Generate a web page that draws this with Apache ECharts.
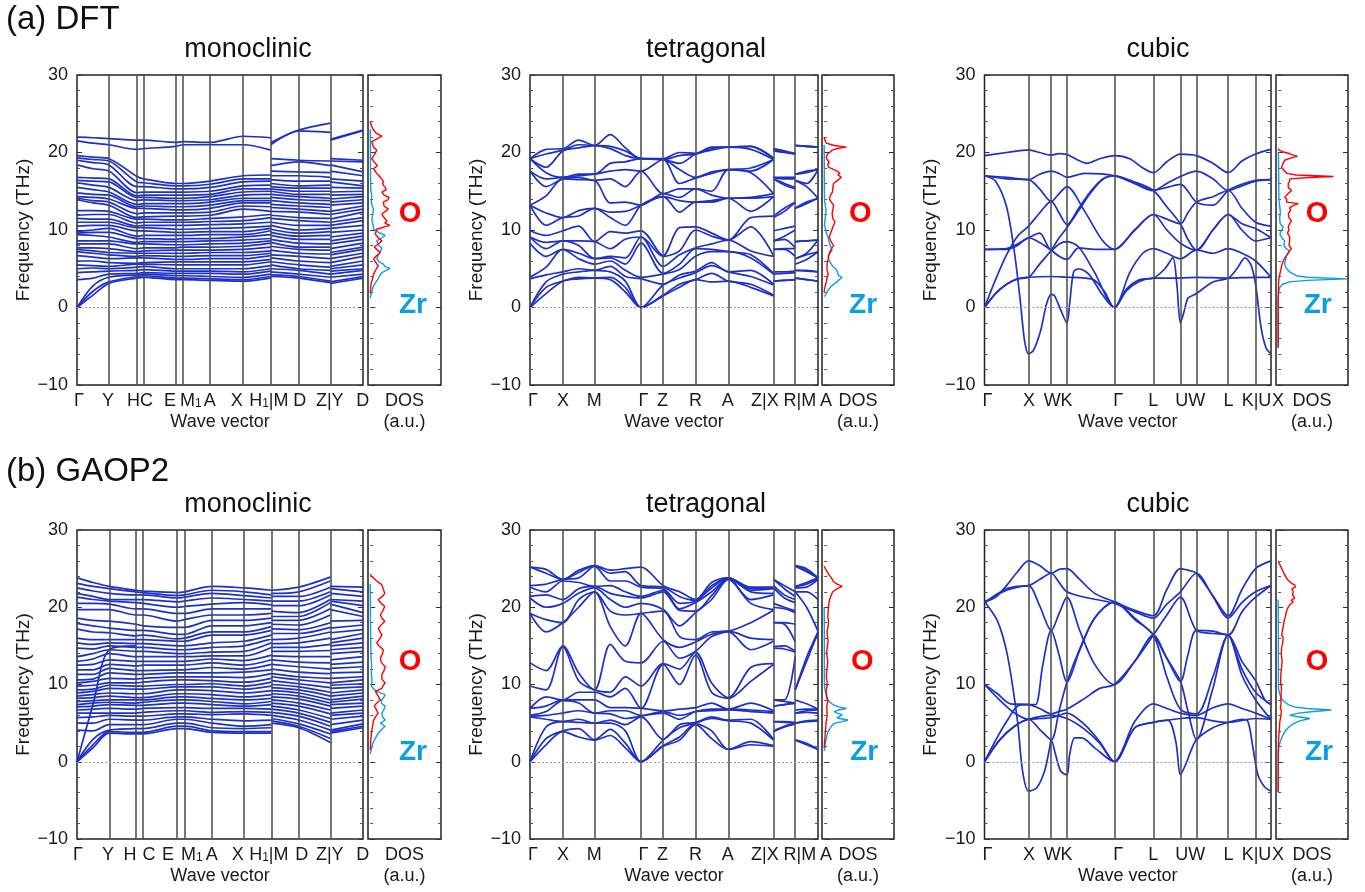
<!DOCTYPE html>
<html>
<head>
<meta charset="utf-8">
<script src="https://cdn.jsdelivr.net/npm/echarts@6/dist/echarts.min.js"></script>
<style>
  html, body { margin: 0; padding: 0; background: #fff; }
  #main { width: 1365px; height: 892px; }
</style>
</head>
<body>
<div id="main"></div>
<script>
// ---------- monoclinic, DFT : band frequencies (THz) at the path nodes, sorted ----------
var monoA_k1 = [0, 16, 32, 60, 66.6, 99.3, 106, 133.3, 166.3, 194];
var monoA_k2 = [194, 222, 253.6];
var monoA_k3 = [253.6, 286.3];
var monoA_lines = [32, 60, 66.6, 99.3, 106, 133.3, 166.3, 194, 222, 253.6];
var monoA_labels = [[2, 'Γ'], [31, 'Y'], [63, 'HC'], [93, 'E'], [114, 'M{s|1}'], [133, 'A'], [160, 'X'], [192, 'H{s|1}|M'], [223, 'D'], [253, 'Z|Y'], [286, 'D']];
var monoA_G  = [0,0,0,3.6,4.5,5.0,5.5,6.0,6.7,7.2,7.5,7.7,8.2,8.6,9.4,9.6,9.8,10.5,11.0,11.5,11.9,12.5,13.9,14.1,14.3,14.8,15.5,16.1,16.4,16.8,18.4,19.0,19.3,19.6,21.5,22.0];
var monoA_GY = [1.6,2.1,2.8,3.8,4.6,5.1,5.4,6.0,6.5,7.0,7.3,7.7,8.2,8.6,9.3,9.7,10.0,10.6,11.0,11.4,12.0,12.5,13.5,13.8,14.2,14.6,15.2,15.8,16.3,16.7,17.9,18.7,19.1,19.4,21.2,21.9];
var monoA_Y  = [3.1,3.3,3.9,4.3,4.7,5.0,5.3,5.8,6.3,6.8,7.1,7.6,8.2,8.6,9.1,9.7,10.2,10.6,11.0,11.4,12.0,12.4,13.2,13.6,14.0,14.5,14.9,15.5,16.2,16.6,17.6,18.4,18.9,19.2,21.0,21.8];
var monoA_H  = [3.8,4.0,4.2,4.4,4.8,5.2,5.6,5.7,6.4,6.6,7.0,7.2,7.6,8.2,8.4,8.9,9.2,9.9,10.3,10.5,10.9,11.4,11.6,12.1,12.8,13.0,13.3,13.8,14.2,14.4,14.8,15.6,16.2,16.9,20.4,21.6];
var monoA_C  = [3.9,4.1,4.3,4.5,4.9,5.3,5.6,5.8,6.4,6.7,7.0,7.3,7.7,8.2,8.5,8.9,9.3,9.9,10.3,10.6,11.0,11.4,11.7,12.2,12.8,13.1,13.4,13.9,14.2,14.5,14.9,15.6,16.1,16.6,20.5,21.6];
var monoA_E  = [3.6,3.8,4.1,4.4,4.7,5.0,5.5,5.9,6.2,6.6,7.0,7.4,7.7,8.1,8.5,8.8,9.3,9.7,10.1,10.6,11.0,11.3,11.8,12.2,12.6,13.0,13.4,13.8,14.1,14.5,14.9,15.3,15.7,16.0,20.8,21.3];
var monoA_M1 = [3.6,3.8,4.1,4.4,4.7,5.0,5.5,5.9,6.2,6.6,7.0,7.4,7.8,8.1,8.5,8.9,9.3,9.7,10.1,10.6,11.0,11.3,11.8,12.2,12.6,13.0,13.4,13.8,14.1,14.5,14.9,15.3,15.7,16.0,21.0,21.4];
var monoA_A  = [3.5,3.7,4.0,4.4,4.7,5.0,5.5,5.9,6.3,6.7,7.1,7.4,7.8,8.2,8.6,8.9,9.4,9.8,10.2,10.7,11.1,11.5,11.9,12.3,12.8,13.2,13.6,13.9,14.3,14.6,15.0,15.5,15.9,16.3,21.0,21.3];
var monoA_X  = [3.4,3.6,3.9,4.3,4.6,5.0,5.5,5.9,6.3,6.7,7.1,7.5,7.9,8.3,8.7,9.1,9.4,9.8,10.3,10.8,11.2,11.7,12.7,13.1,13.5,13.8,14.1,14.5,14.9,15.3,15.7,16.2,16.6,17.0,21.0,22.1];
var monoA_H1 = [3.8,4.0,4.3,4.7,5.0,5.4,5.9,6.2,6.7,7.0,7.3,7.8,8.3,8.6,8.9,9.4,9.9,10.2,10.5,11.0,11.6,12.0,12.4,13.0,13.5,13.8,14.1,14.6,15.0,15.3,15.8,16.3,16.6,17.1,20.3,21.9];
var monoA_M  = [4.0,4.2,4.6,5.0,5.5,5.9,6.4,6.8,7.4,7.9,8.4,8.8,9.3,9.7,10.1,10.6,11.0,11.5,11.9,12.4,12.9,13.3,13.8,14.2,14.6,15.0,15.3,15.6,16.0,16.5,17.0,17.6,18.3,19.2,21.0,21.3];
var monoA_D  = [3.8,4.0,4.3,4.8,5.0,5.5,6.0,6.6,7.0,7.5,7.8,8.3,8.8,9.2,9.6,10.0,10.6,11.2,11.6,12.3,12.7,13.1,13.5,13.9,14.3,14.6,15.0,15.4,15.7,16.3,17.0,17.5,18.8,19.0,22.8,22.9];
var monoA_Z  = [3.2,3.4,3.9,4.3,4.8,5.2,5.8,6.3,6.9,7.4,7.8,8.2,8.8,9.3,9.8,10.2,10.6,11.0,11.5,12.0,12.4,12.9,13.3,13.8,14.1,14.6,15.0,15.4,15.8,16.3,16.8,17.4,18.3,18.9,22.6,23.8];
var monoA_Yr = [3.1,3.3,3.9,4.3,4.7,5.0,5.3,5.8,6.3,6.8,7.1,7.6,8.2,8.6,9.1,9.7,10.2,10.6,11.0,11.4,12.0,12.4,13.2,13.6,14.0,14.5,14.9,15.5,16.2,16.6,17.6,18.4,18.9,19.2,21.6,21.7];
var monoA_Dend = [3.8,4.0,4.3,4.8,5.0,5.5,6.0,6.6,7.0,7.5,7.8,8.3,8.8,9.2,9.6,10.0,10.6,11.2,11.6,12.3,12.7,13.1,13.5,13.9,14.3,14.6,15.0,15.4,15.7,16.3,17.0,17.5,18.8,19.0,22.8,22.9];

// ---------- monoclinic, GAOP2 ----------
var monoB_k1 = [0, 16, 32.3, 59, 66.3, 100, 107.6, 135, 167.3, 194.6];
var monoB_k2 = [194.6, 222, 253.6];
var monoB_k3 = [253.6, 286.3];
var monoB_lines = [32.3, 59, 66.3, 100, 107.6, 135, 167.3, 194.6, 222, 253.6];
var monoB_labels = [[1, 'Γ'], [31, 'Y'], [53, 'H'], [72, 'C'], [91, 'E'], [115, 'M{s|1}'], [135, 'A'], [161, 'X'], [192, 'H{s|1}|M'], [225, 'D'], [253, 'Z|Y'], [286, 'D']];
var monoB_G  = [0,0,0,4.1,5.0,5.7,6.3,6.7,7.1,7.4,7.8,8.2,8.5,8.9,9.3,9.8,10.2,10.6,11.3,11.9,12.5,13.0,13.6,14.7,15.4,16.0,17.2,17.9,18.6,19.7,20.5,21.3,21.8,22.5,23.1,23.8];
var monoB_GY = [1.8,2.2,2.9,4.0,5.0,5.8,6.3,6.8,7.2,7.6,7.9,8.3,8.7,9.1,9.4,9.9,10.4,10.7,11.3,11.9,12.6,13.3,14.0,14.6,15.2,15.8,16.8,17.6,18.3,19.7,20.5,21.0,21.4,22.1,22.7,23.2];
var monoB_Y  = [3.7,3.9,4.1,4.8,5.5,6.0,6.3,6.9,7.4,7.7,8.0,8.5,8.9,9.5,9.9,10.2,10.8,11.5,12.1,12.6,13.2,14.0,14.5,15.0,15.4,15.8,16.7,17.3,18.2,19.7,20.4,20.8,21.0,21.8,22.4,22.7];
var monoB_H  = [3.6,3.8,4.3,4.8,5.4,5.9,6.3,6.8,7.3,7.6,8.0,8.3,8.8,9.4,9.8,10.2,10.7,11.3,11.8,12.4,13.0,13.6,14.3,14.8,15.3,15.8,16.3,17.0,17.8,19.0,19.8,20.6,21.0,21.6,22.0,22.2];
var monoB_C  = [3.6,3.8,4.3,4.8,5.4,5.9,6.4,6.9,7.3,7.7,8.0,8.3,8.8,9.4,9.8,10.3,10.8,11.3,11.8,12.5,13.0,13.6,14.3,14.8,15.3,15.8,16.4,17.0,17.6,19.0,19.8,20.5,21.0,21.6,21.9,22.1];
var monoB_E  = [4.3,4.6,5.0,5.5,5.8,6.2,6.6,7.0,7.6,8.0,8.4,8.8,9.3,9.7,10.0,10.6,11.0,11.5,11.9,12.5,13.0,13.6,14.0,14.5,15.0,15.6,15.9,16.5,17.4,18.2,19.2,20.0,20.7,21.2,21.5,21.9];
var monoB_M1 = [4.3,4.6,5.0,5.5,5.8,6.2,6.6,7.0,7.6,8.0,8.4,8.8,9.3,9.7,10.0,10.6,11.0,11.5,11.9,12.5,13.0,13.6,14.0,14.5,15.0,15.6,16.0,16.5,17.4,18.4,19.2,20.1,20.8,21.3,21.6,22.0];
var monoB_A  = [3.8,4.0,4.4,5.0,5.5,6.1,6.4,6.9,7.4,7.8,8.2,8.7,9.2,9.7,10.1,10.5,11.0,11.5,12.2,12.8,13.3,13.7,14.2,14.8,15.4,16.4,16.8,17.6,18.3,19.0,19.8,20.4,21.2,21.8,22.2,22.7];
var monoB_X  = [3.7,3.9,4.3,4.6,5.3,6.2,6.5,6.9,7.2,7.5,8.0,8.4,8.9,9.4,9.8,10.3,10.9,11.6,12.0,12.5,13.1,13.7,14.3,15.0,15.6,16.4,16.8,17.6,18.3,19.0,19.8,20.6,21.0,21.5,22.0,22.5];
var monoB_H1 = [3.7,3.9,4.4,4.8,5.4,6.0,6.4,6.8,7.4,7.8,8.2,8.7,9.2,9.8,10.3,10.8,11.4,11.9,12.6,13.2,13.8,14.8,15.4,15.9,16.4,17.0,17.5,18.0,18.6,19.2,19.8,20.3,20.8,21.2,21.6,22.2];
var monoB_M  = [5.0,5.3,5.6,6.0,6.4,6.8,7.2,7.6,8.0,8.4,8.8,9.2,9.6,10.0,10.5,11.0,11.4,12.0,12.6,13.2,13.7,14.3,14.8,15.3,15.8,16.6,17.2,17.8,18.3,18.8,19.5,20.2,20.8,21.4,21.8,22.2];
var monoB_D  = [4.4,4.6,4.9,5.4,5.9,6.3,6.7,7.2,7.6,8.1,8.5,8.9,9.3,9.7,10.1,10.6,11.0,11.6,12.3,12.9,13.6,14.3,14.8,15.4,16.0,16.6,17.1,17.7,18.3,18.8,19.3,20.2,20.8,21.4,22.0,22.6];
var monoB_Z  = [2.5,3.0,3.6,4.1,4.6,5.1,5.6,6.2,6.7,7.2,7.6,8.0,8.5,9.0,9.6,10.2,10.8,11.4,12.0,12.8,13.6,14.4,15.2,16.0,16.8,17.4,18.0,19.0,19.8,20.6,21.0,21.6,22.0,22.6,23.4,23.9];
var monoB_Yr = [3.7,3.9,4.1,4.8,5.5,6.0,6.3,6.9,7.4,7.7,8.0,8.5,8.9,9.5,9.9,10.2,10.8,11.5,12.1,12.6,13.2,14.0,14.5,15.0,15.4,15.8,16.7,17.3,18.2,19.7,20.4,20.8,21.0,21.8,22.4,22.7];
var monoB_Dend = [4.4,4.6,4.9,5.4,5.9,6.3,6.7,7.2,7.6,8.1,8.5,8.9,9.3,9.7,10.1,10.6,11.0,11.6,12.3,12.9,13.6,14.3,14.8,15.4,16.0,16.6,17.1,17.7,18.3,18.8,19.3,20.2,20.8,21.4,22.0,22.6];
var monoB_LA = [[0, 0], [16, 7.4], [32.3, 14.5], [59, 15.0]];

// ---------- tetragonal ----------
var tetra_k1 = [0, 16, 32.7, 48.5, 64.3, 80, 95, 110.7, 132.7, 149, 165, 181, 197.7, 220, 242.7];
var tetra_k2 = [242.7, 253.5, 264.3];
var tetra_k3 = [264.3, 275.6, 287];
var tetra_lines = [32.7, 64.3, 110.7, 132.7, 165, 197.7, 242.7, 264.3];
var tetra_labels = [[3, 'Γ'], [33, 'X'], [64, 'M'], [113, 'Γ'], [132, 'Z'], [165, 'R'], [197, 'A'], [234, 'Z|X'], [269, 'R|M']];

var tA_G  = [0,0,0,3.7,3.9,8.3,9.1,9.1,9.9,13.2,13.2,13.2,17.6,17.6,19.2,19.2,19.2,19.2];
var tA_m1 = [1.8,2.6,3.3,4.2,5.2,6.6,7.6,8.4,9.3,10.6,12.2,14.4,15.6,16.6,17.4,18.1,19.8,20.4];
var tA_X  = [3.4,3.4,4.3,4.6,7.5,7.5,8.6,8.6,9.9,11.6,11.6,16.6,16.6,16.8,16.8,20.2,20.3,20.5];
var tA_m2 = [3.7,3.9,4.6,5.0,6.3,7.0,8.0,8.6,10.5,11.8,12.5,16.5,16.8,17.0,17.2,20.6,21.0,21.6];
var tA_M  = [3.8,3.8,4.8,4.8,5.6,6.3,6.3,8.5,8.5,12.8,12.8,16.4,16.4,17.2,17.2,20.9,20.9,20.9];
var tA_m3 = [3.6,3.9,4.6,5.3,6.0,6.4,6.6,7.6,9.8,11.6,12.3,13.5,16.6,17.6,18.6,20.5,20.8,22.3];
var tA_m4 = [2.0,2.6,3.4,4.0,4.8,5.6,6.4,8.8,9.6,10.6,12.4,13.6,15.6,17.8,18.8,19.6,20.2,20.6];
var tA_Z  = [1.5,1.6,2.9,3.0,4.3,4.4,5.3,6.6,6.7,14.3,14.3,14.7,14.7,19.1,19.1,19.1,19.1,19.2];
var tA_m5 = [2.6,3.0,3.8,4.2,4.9,5.6,6.8,7.3,10.3,12.3,13.8,14.2,15.3,16.0,17.8,18.6,19.6,20.0];
var tA_R  = [3.6,3.6,4.5,4.7,6.6,7.6,7.7,10.0,10.4,13.6,13.6,15.3,15.3,16.7,16.8,19.8,19.8,19.9];
var tA_m6 = [3.3,4.4,5.4,5.8,7.2,7.5,8.2,9.2,9.6,13.6,13.8,14.5,15.0,17.3,17.5,20.3,20.5,20.7];
var tA_A  = [3.4,3.4,4.6,4.6,7.2,7.2,8.7,8.7,8.7,14.1,14.1,14.1,17.8,17.8,17.8,20.7,20.7,20.7];
var tA_m7 = [2.6,3.0,4.0,4.8,6.4,6.8,7.3,10.4,11.6,12.4,14.1,14.2,17.4,17.6,18.0,20.4,20.8,20.8];
var tA_Z2 = [1.5,1.6,2.9,3.0,4.3,4.4,6.6,6.7,11.8,14.3,14.3,14.7,14.7,19.1,19.1,19.1,19.2,19.3];
var tA_X2 = [3.4,3.4,4.3,4.6,7.5,7.5,8.6,8.6,9.9,11.6,11.8,16.6,16.6,16.8,16.8,20.2,20.3,20.5];
var tA_m8 = [3.5,3.5,4.4,4.6,7.5,7.6,8.8,9.2,10.2,12.4,12.8,15.8,16.0,16.6,16.8,20.0,20.1,20.2];
var tA_R2 = [3.6,3.6,4.5,4.7,6.6,7.6,7.7,10.0,10.5,13.6,13.6,15.3,15.5,16.6,16.8,19.8,19.8,19.9];
var tA_m9 = [3.6,3.6,4.7,4.8,6.2,6.8,7.0,8.6,8.6,13.4,13.6,15.6,16.0,17.4,17.6,20.8,20.8,20.8];

var tB_G  = [0,0,0,5.8,5.9,6.0,6.9,6.9,9.8,12.8,19.2,19.2,21.2,21.4,22.6,22.8,25.2,25.2];
var tB_m1 = [2.2,3.0,4.5,5.5,6.0,6.5,7.2,8.4,9.3,11.8,16.8,18.4,20.0,21.6,22.0,23.0,24.4,24.9];
var tB_X  = [3.9,4.0,5.2,5.2,6.3,7.9,8.0,8.0,14.9,15.0,18.0,18.0,20.5,21.0,23.4,23.6,23.6,23.6];
var tB_m2 = [3.2,4.3,5.1,5.5,6.6,7.6,8.0,9.0,10.5,11.5,20.0,21.0,21.8,22.4,23.2,23.8,24.5,24.8];
var tB_M  = [2.8,2.85,5.0,5.0,6.3,6.3,8.0,9.0,9.3,9.3,22.0,22.0,22.5,22.7,22.7,25.3,25.4,25.4];
var tB_m3 = [3.4,4.2,5.0,5.4,6.2,6.6,7.0,8.4,9.0,15.2,17.5,19.5,21.0,21.8,22.8,23.4,24.4,24.8];
var tB_m4 = [1.8,2.4,4.0,4.8,5.6,6.6,7.0,9.5,11.0,13.0,15.0,19.0,20.0,21.4,22.0,23.4,24.6,25.0];
var tB_G2 = [0,0,0,5.8,5.9,6.0,6.9,6.9,9.8,12.8,19.2,19.2,20.5,21.2,21.4,22.6,22.8,25.2];
var tB_Z  = [2.0,2.1,2.8,2.9,6.3,6.5,6.6,12.6,12.7,15.6,15.8,19.5,19.7,22.0,22.2,22.4,22.6,22.8];
var tB_m5 = [2.8,3.2,4.4,4.8,5.5,6.0,6.8,10.0,12.0,13.4,14.8,16.2,17.6,19.6,19.8,20.5,21.4,22.0];
var tB_R  = [4.8,4.9,5.0,5.1,6.5,6.5,7.0,13.8,14.2,14.3,15.5,15.8,19.3,19.5,20.6,20.8,20.9,21.0];
var tB_m6 = [3.0,4.0,5.6,5.8,6.6,6.8,7.6,9.0,10.2,16.2,16.5,16.8,21.0,21.5,22.0,22.5,22.8,23.2];
var tB_A  = [1.6,1.6,5.3,5.4,6.7,6.8,6.8,8.2,8.3,16.8,16.9,16.9,23.6,23.7,23.7,23.8,23.8,23.8];
var tB_m7 = [2.2,2.6,5.0,5.5,6.5,6.7,7.6,10.4,12.2,14.5,16.0,18.0,20.5,21.0,22.0,22.2,22.4,22.6];
var tB_Z2 = [2.0,2.1,2.8,2.9,6.3,6.5,6.6,12.6,12.7,15.6,15.8,19.6,19.7,21.6,21.8,22.4,22.5,22.6];
var tB_X2 = [3.9,4.0,5.2,5.2,7.2,7.2,8.0,8.0,14.7,14.9,18.0,18.0,20.0,20.5,22.5,22.8,23.6,23.6];
var tB_m8 = [4.5,4.6,5.1,5.2,7.4,7.4,7.8,8.0,14.6,15.0,17.8,18.0,19.8,20.0,21.2,21.6,22.4,22.8];
var tB_R2 = [4.9,5.0,5.0,5.1,7.6,7.6,7.6,13.6,14.2,14.3,15.5,17.8,19.3,19.5,20.6,21.0,21.4,22.0];
var tB_M2 = [2.8,2.85,5.0,5.0,6.3,6.3,6.7,8.0,9.3,9.3,22.0,22.0,22.5,22.7,22.7,25.3,25.4,25.4];
var tB_m9 = [2.2,2.4,5.2,5.3,6.4,6.6,6.8,7.5,13.0,13.5,20.0,22.0,22.6,23.0,23.2,24.6,24.8,25.0];
var tB_A2 = [1.6,1.6,5.3,5.4,6.3,6.7,6.8,6.8,16.7,16.8,16.9,21.0,23.6,23.7,23.8,23.8,23.8,23.8];

// ---------- cubic : each band as [path position, THz] ----------
var cubic_lines = [44, 66.6, 82.3, 129.6, 168.6, 195.6, 211.6, 243.3, 270.6];
var cubic_labels = [[3, 'Γ'], [44.5, 'X'], [73.5, 'WK'], [133.5, 'Γ'], [168.5, 'L'], [205.5, 'UW'], [243.5, 'L'], [271.5, 'K|U']];

var cA_b1 = [[0,19.6],[22,20.0],[44,20.35],[55,20.0],[66.6,19.65],[74.5,19.85],[82.3,19.75],[92,19.1],[102,18.6],[115,19.2],[129.6,19.6],[145,19.2],[158,18.0],[168.6,17.4],[182,18.8],[195.6,19.8],[211.6,19.6],[228,18.6],[243.3,17.4],[257,18.9],[270.6,19.8],[286,20.4]];
var cA_b2 = [[0,17.0],[22,16.8],[44,16.5],[55,17.2],[66.6,17.6],[74.5,17.3],[82.3,16.8],[100,17.3],[129.6,17.0],[150,16.0],[168.6,15.1],[182,16.0],[195.6,16.9],[211.6,17.6],[228,16.6],[243.3,15.1],[257,15.7],[270.6,16.3],[286,16.5]];
var cA_b3 = [[0,17.0],[22,16.6],[44,16.5],[55,15.3],[66.6,13.7],[74.5,14.7],[82.3,15.6],[100,12.4],[118,8.6],[129.6,7.5],[150,10.0],[168.6,12.0],[182,11.4],[195.6,10.8],[203,12.2],[211.6,13.6],[228,14.3],[243.3,15.1],[257,12.8],[270.6,11.0],[286,10.5]];
var cA_b4 = [[0,17.0],[11,16.3],[22,13.0],[30,7.0],[36,0.5],[40,-4.3],[44,-6.0],[49,-5.5],[56,-3.0],[62,0.5],[66.6,1.7],[70,1.5],[76,-0.3],[82.3,-2.0],[85,0.5],[89,4.6],[94,5.0],[104,4.3],[118,1.6],[129.6,0],[142,2.4],[155,3.6],[168.6,3.8],[180,5.0],[188,6.4],[192,3.0],[195.6,-2.0],[199,-0.6],[203,1.2],[207,1.5],[211.6,1.8],[228,3.3],[243.3,3.8],[252,5.0],[260,6.4],[266,5.5],[270.6,3.0],[276,-2.5],[281,-5.2],[286,-6.0]];
var cA_b5 = [[0,7.5],[22,7.6],[33,8.2],[44,9.0],[55,9.6],[66.6,7.4],[74.5,8.2],[82.3,8.5],[94,7.8],[110,4.5],[129.6,0],[145,4.5],[158,7.0],[168.6,7.6],[182,7.0],[195.6,6.3],[211.6,7.4],[228,7.0],[243.3,7.6],[257,7.0],[270.6,6.0],[286,3.9]];
var cA_b6 = [[0,7.5],[22,7.5],[33,8.0],[44,9.0],[55,8.4],[66.6,7.4],[74.5,6.6],[82.3,6.2],[94,7.7],[110,7.5],[129.6,7.5],[150,10.0],[168.6,12.0],[182,10.0],[195.6,8.3],[211.6,7.4],[228,10.0],[243.3,12.0],[257,10.0],[270.6,8.6],[286,9.0]];
var cA_b7 = [[0,0],[11,3.6],[22,6.8],[33,9.2],[44,10.5],[55,12.2],[66.6,13.7],[74.5,12.2],[82.3,10.7],[94,12.8],[106,15.0],[118,16.6],[129.6,17.0],[150,16.0],[168.6,15.1],[182,15.5],[195.6,15.9],[211.6,13.6],[228,13.2],[243.3,15.1],[257,15.9],[270.6,16.4],[286,16.5]];
var cA_b8 = [[0,0],[11,1.8],[22,3.0],[33,3.7],[44,3.9],[66.6,4.0],[82.3,3.9],[100,3.8],[110,3.5],[120,2.0],[129.6,0],[142,2.2],[155,3.4],[168.6,3.8],[195.6,3.8],[211.6,3.9],[243.3,3.8],[270.6,3.9],[286,3.9]];
var cA_b9 = [[0,0],[11,1.8],[22,3.0],[33,3.7],[44,3.9],[55,5.6],[66.6,7.4],[74.5,9.0],[82.3,10.3],[94,12.5],[106,14.8],[118,16.5],[129.6,17.0],[150,16.2],[168.6,15.1],[182,13.0],[195.6,10.8],[203,8.8],[211.6,7.4],[228,10.0],[243.3,12.0],[257,10.8],[270.6,10.2],[286,9.0]];

var cB_b1 = [[0,20.7],[11,21.3],[22,22.8],[33,24.6],[44,26.0],[55,25.4],[66.6,24.4],[74.5,24.9],[82.3,25.0],[95,23.6],[110,21.8],[129.6,20.7],[150,19.6],[168.6,18.9],[182,22.3],[195.6,25.0],[203,24.8],[211.6,24.4],[228,21.5],[243.3,18.9],[257,22.3],[270.6,25.0],[286,26.0]];
var cB_b2 = [[0,20.5],[11,21.6],[22,22.4],[33,22.7],[44,22.8],[55,23.6],[66.6,24.4],[74.5,23.2],[82.3,22.0],[100,21.3],[129.6,20.5],[150,19.4],[168.6,18.6],[182,20.4],[195.6,22.0],[211.6,24.4],[228,21.4],[243.3,18.6],[257,20.6],[270.6,22.0],[286,22.8]];
var cB_b3 = [[0,20.7],[11,21.5],[22,22.2],[33,22.6],[44,22.8],[55,20.2],[66.6,17.0],[74.5,19.2],[82.3,21.3],[95,17.0],[110,12.6],[129.6,10.0],[150,13.0],[168.6,16.4],[182,13.4],[195.6,10.4],[203,13.8],[211.6,17.0],[228,16.9],[243.3,16.4],[257,19.4],[270.6,21.3],[286,22.8]];
var cB_b4 = [[0,20.7],[13,18.2],[23,13.7],[33,5.2],[38,-1.2],[44,-3.8],[52,-3.4],[60,-1.2],[65,1.8],[66.6,2.85],[71,0.9],[76,-1.2],[82.3,-1.7],[85,0.9],[90,3.1],[97,3.1],[110,1.8],[129.6,0],[150,4.4],[168.6,5.1],[183,5.4],[191,2.6],[195.6,-1.7],[201,-0.3],[206,1.4],[211.6,2.85],[228,4.4],[243.3,5.1],[257,5.5],[263,5.2],[268,1.8],[273,-1.7],[280,-3.3],[286,-3.8]];
var cB_b5 = [[0,10.0],[13,8.8],[26,7.5],[44,7.4],[55,6.9],[66.6,6.2],[74.5,6.5],[82.3,6.8],[100,8.2],[115,9.5],[129.6,10.0],[150,13.0],[168.6,16.4],[182,19.0],[195.6,21.3],[211.6,17.0],[228,16.6],[243.3,16.4],[257,13.0],[270.6,10.5],[280,8.0],[286,7.4]];
var cB_b6 = [[0,10.0],[15,8.0],[30,6.3],[44,5.5],[55,5.6],[66.6,5.7],[74.5,6.0],[82.3,6.3],[100,4.8],[115,2.6],[129.6,0],[150,5.2],[168.6,7.5],[182,6.9],[195.6,6.3],[211.6,6.0],[228,7.0],[243.3,7.5],[257,6.9],[270.6,6.3],[286,5.5]];
var cB_b7 = [[0,0],[12,3.0],[24,5.6],[34,7.3],[44,7.4],[51,7.4],[58,12.4],[66.6,17.0],[74.5,13.8],[82.3,10.3],[95,14.4],[110,18.6],[129.6,20.7],[150,18.6],[168.6,16.4],[182,13.4],[195.6,10.4],[203,6.6],[211.6,2.85],[228,9.5],[243.3,16.4],[257,12.0],[270.6,9.0],[286,7.4]];
var cB_b8 = [[0,0],[15,2.8],[30,4.6],[44,5.5],[66.6,6.0],[82.3,5.6],[100,4.2],[115,2.4],[129.6,0],[150,4.4],[168.6,5.1],[195.6,5.6],[211.6,5.7],[228,5.3],[243.3,5.1],[270.6,5.6],[286,5.5]];
var cB_b9 = [[0,0],[15,2.8],[30,4.6],[44,5.5],[55,4.2],[66.6,2.85],[74.5,6.6],[82.3,10.3],[95,14.6],[110,18.6],[129.6,20.7],[150,18.4],[168.6,16.4],[182,11.0],[195.6,6.8],[211.6,6.2],[228,11.0],[243.3,16.4],[257,11.2],[270.6,8.0],[286,5.5]];

// ---------- partial DOS : [THz, DOS] ----------
var dosO_monoA = [[1.8,0],[2.7,0.8],[3.2,1.4],[3.8,3.5],[4.3,4.6],[4.9,8],[5.4,11],[5.9,7],[6.3,4.6],[6.7,9],[7.1,14],[7.5,9],[7.8,5.5],[8.2,11],[8.6,16],[9.0,11],[9.5,7],[10.1,9],[10.6,27],[10.9,20],[11.2,23],[11.7,18],[12.1,16],[12.4,21],[12.7,25],[13.1,19],[13.6,18],[13.9,24],[14.2,26],[14.5,19],[14.9,16],[15.2,22],[15.5,20.5],[15.9,17],[16.3,18],[16.8,14],[17.3,9],[17.9,4.6],[18.3,10],[18.7,6],[19.2,2],[19.6,5],[20.3,9],[20.8,4],[21.4,2],[21.8,10],[22.1,16],[22.5,8],[23.0,4],[23.6,1],[24.0,0]];
var dosZr_monoA = [[1.2,0],[1.6,1],[2.2,2.5],[2.8,4.6],[3.3,8],[3.7,11],[4.1,13],[4.5,16],[4.8,22],[5.05,27],[5.3,20],[5.6,18],[5.9,12],[6.3,9],[6.7,11],[7.1,13],[7.6,16],[8.0,12],[8.6,9],[9.0,16],[9.3,20.5],[9.7,11.4],[10.1,5],[10.6,4],[11.0,3],[11.4,2.3],[12.0,3.5],[12.7,4.6],[13.2,2.5],[13.8,1.5],[14.5,2.3],[15.0,1],[16,0.5],[18,0.4],[20,0.3],[22,0.2],[23,0]];
var dosO_monoB = [[1.5,0],[2.2,0.4],[2.8,0.8],[3.5,1.5],[4.1,2.3],[4.7,3.5],[5.4,4.6],[5.9,8],[6.3,11],[6.8,8],[7.2,5.5],[7.6,9],[8.0,14],[8.5,11],[9.1,7],[9.5,16],[9.9,18],[10.2,20.5],[10.7,16],[11.3,16],[11.8,19],[12.3,20.5],[12.9,15],[13.4,14],[14.0,17],[14.5,18],[15.0,12],[15.4,9],[15.9,13],[16.4,16],[16.9,13],[17.3,11],[17.8,16],[18.2,20],[18.6,16],[19.0,14],[19.5,17],[20.1,20],[20.5,15],[21.0,11],[21.4,17],[21.8,20],[22.3,18],[22.9,16],[23.4,9],[24.0,2],[24.3,0]];
var dosZr_monoB = [[1.0,0],[1.3,1],[2.0,2.5],[2.6,4.6],[3.2,8],[3.7,11],[4.2,16],[4.6,20.5],[5.0,14],[5.4,20.5],[5.8,17],[6.3,16],[6.8,19],[7.2,20.5],[7.6,15],[8.0,16],[8.4,19],[8.7,20.5],[9.1,9],[9.5,4],[9.8,1.5],[10.5,2.5],[11.5,1.5],[12.5,2.0],[13.5,1.2],[15,0.8],[17,0.5],[20,0.3],[23,0]];
var dosO_tetraA = [[2.0,0],[2.6,1],[3.2,2.7],[3.8,4],[4.3,5.5],[4.8,4],[5.6,4],[6.2,5.5],[6.9,7],[7.4,9],[8.0,13],[8.6,9],[9.1,7],[9.6,9],[10.1,11],[10.6,13],[11.0,15],[11.5,12],[12.1,11],[12.6,12],[13.2,13],[13.6,10],[14.0,7],[14.5,9],[14.9,11.5],[15.4,12],[16.0,13],[16.5,20],[16.8,24],[17.1,19],[17.3,22],[17.6,18],[18.1,6],[18.5,5],[18.8,7],[19.1,4],[19.4,2.7],[19.8,5],[20.3,11],[20.55,20],[20.7,31],[20.9,14],[21.2,3],[21.6,1],[22.0,0]];
var dosZr_tetraA = [[1.4,0],[1.7,2.7],[2.2,5],[2.6,8.5],[3.0,13],[3.3,18],[3.6,21],[3.9,25],[4.1,20],[4.3,20],[4.7,18],[5.0,16],[5.3,12],[5.6,10],[6.0,7],[6.4,6],[6.7,5.5],[7.1,9],[7.4,11],[7.6,13],[7.9,9],[8.4,7],[9.1,5.5],[9.6,3],[10.2,1.5],[10.8,0.5],[11.6,1.5],[12.5,2.7],[13.2,1.5],[13.8,0.5],[15,0.3],[18,0.2],[21,0]];
var dosO_tetraB = [[1.8,0],[2.6,0.6],[3.5,1.4],[4.4,2.2],[5.2,2.7],[5.8,4],[6.5,4],[7.2,3.6],[7.8,5],[8.4,3.5],[9.1,2.7],[9.8,4],[10.4,4],[11.0,3],[11.7,3.6],[12.4,4.5],[13.0,5],[13.6,4],[14.3,3.6],[15.0,4.5],[15.6,5.5],[16.2,4.5],[16.9,4],[17.5,5.5],[18.2,6],[18.8,5],[19.5,5.5],[20.1,6],[20.8,7],[21.4,9],[22.0,12],[22.4,18],[22.7,25],[23.0,18],[23.3,13],[23.8,10],[24.2,7],[24.7,3.5],[25.3,0]];
var dosZr_tetraB = [[1.4,0],[1.8,0.8],[2.6,2],[3.3,3.6],[3.9,5.5],[4.4,8.5],[4.8,12],[5.0,15],[5.2,25],[5.4,33],[5.6,22],[5.7,18],[5.9,22],[6.1,25],[6.3,18],[6.5,14],[6.7,20],[6.9,31],[7.1,20],[7.4,12],[7.8,7],[8.2,4.5],[8.7,2.7],[9.3,1.2],[10.0,0.3],[12,0.3],[15,0.3],[18,0.2],[20,0]];
var dosO_cubicA = [[-5.2,0],[0.9,0],[2.0,0.3],[3.0,0.5],[3.7,1],[4.3,2.3],[5.0,4],[5.6,5.6],[6.2,8],[6.7,11.6],[7.2,15],[7.6,18.5],[8.0,15],[8.2,14],[8.6,16],[9.1,16],[9.6,13],[10.0,15],[10.4,14],[10.8,16],[11.2,18.5],[11.6,15],[12.1,14],[12.5,17],[12.9,16],[13.2,22],[13.4,28],[13.6,11.6],[14.0,12],[14.2,9],[14.6,13],[15.1,18.5],[15.5,14],[16.0,14],[16.3,16],[16.6,16],[16.8,50],[16.9,77],[17.1,25],[17.3,12],[17.5,11.6],[17.8,7],[18.1,4.6],[18.6,7],[19.0,9],[19.3,18],[19.5,27],[19.7,20],[19.9,14],[20.1,6],[20.3,1],[20.5,0]];
var dosZr_cubicA = [[-5.2,0],[0.9,0],[2.0,0.6],[2.6,2.3],[3.0,6],[3.3,16],[3.5,40],[3.7,96],[3.9,40],[4.1,25],[4.3,23],[4.6,16],[5.0,11.6],[5.3,10],[5.6,9],[6.0,10],[6.4,11],[6.7,11.6],[7.0,14],[7.3,16],[7.6,11],[8.0,8],[8.6,9],[9.0,5],[9.5,2.3],[10.0,5],[10.4,7],[10.8,3],[11.5,2],[12.3,3],[13.0,2.3],[14,1],[16,0.8],[18,0.6],[19.5,0.5],[20.0,0]];
var dosO_cubicB = [[-3.9,0],[1.0,0],[2.2,0.3],[3.5,1],[4.4,1.8],[5.2,2.3],[5.8,3.5],[6.5,4.6],[7.0,3],[7.5,4],[8.2,3.7],[8.8,4.2],[9.5,4.6],[10.2,3.5],[11.3,3.7],[12.0,4.5],[13.0,5.6],[13.8,4.5],[14.7,4.6],[15.3,6],[16.0,7],[16.4,5],[16.9,5.6],[17.5,7],[18.2,8.3],[18.8,10],[19.5,11.6],[20.0,14],[20.3,16],[20.7,21],[20.9,18],[21.2,23],[21.6,20],[22.0,21],[22.4,19],[22.6,24],[22.9,23],[23.1,18.5],[23.5,14],[23.8,11.6],[24.2,9],[24.6,7],[25.2,4],[25.9,0]];
var dosZr_cubicB = [[-3.9,0],[1.3,0.5],[2.0,1],[2.4,2.3],[3.0,4.5],[3.5,7],[4.0,10],[4.4,14],[4.8,19],[5.0,23],[5.3,30],[5.6,44],[5.8,30],[6.0,16],[6.1,14],[6.3,28],[6.5,50],[6.7,74],[6.9,40],[7.1,22],[7.4,14],[7.8,8],[8.2,4.6],[8.8,2],[9.5,0.5],[10.5,0.4],[13,0.3],[16,0.3],[19,0.2],[21,0]];

// ---------- build ----------
var FF = '"Liberation Sans", Arial, Helvetica, sans-serif';
var BAND = '#1d30c8';
var RED = '#ff0000';
var CYAN = '#0a9ee8';
var INK = '#1a1a1a';

function levelBands(segs) {
  var out = [];
  segs.forEach(function (seg) {
    var n = seg.levels[0].length;
    for (var i = 0; i < n; i++) {
      out.push(seg.k.map(function (k, j) { return [k, seg.levels[j][i]]; }));
    }
  });
  return out;
}

var panels = [
  { top: 75, h: 310, left: 77, w: 286, kMax: 286.3, dosLeft: 368, dosW: 73, title: 'monoclinic', tx: 248,
    lines: monoA_lines, labels: monoA_labels,
    bands: levelBands([
      { k: monoA_k1, levels: [monoA_G, monoA_GY, monoA_Y, monoA_H, monoA_C, monoA_E, monoA_M1, monoA_A, monoA_X, monoA_H1] },
      { k: monoA_k2, levels: [monoA_M, monoA_D, monoA_Z] },
      { k: monoA_k3, levels: [monoA_Yr, monoA_Dend] }]),
    dosO: dosO_monoA, dosZr: dosZr_monoA, oAt: [54.5, 12.1], zrAt: [58.6, 0.3], tail: null },
  { top: 75, h: 310, left: 530, w: 288, kMax: 287, dosLeft: 822, dosW: 72, title: 'tetragonal', tx: 706,
    lines: tetra_lines, labels: tetra_labels,
    bands: levelBands([
      { k: tetra_k1, levels: [tA_G, tA_m1, tA_X, tA_m2, tA_M, tA_m3, tA_m4, tA_G, tA_Z, tA_m5, tA_R, tA_m6, tA_A, tA_m7, tA_Z2] },
      { k: tetra_k2, levels: [tA_X2, tA_m8, tA_R2] },
      { k: tetra_k3, levels: [tA_M, tA_m9, tA_A] }]),
    dosO: dosO_tetraA, dosZr: dosZr_tetraA, oAt: [50, 12.1], zrAt: [54, 0.3], tail: [2.6, 'A'] },
  { top: 75, h: 310, left: 984.5, w: 286.5, kMax: 286, dosLeft: 1276, dosW: 72, title: 'cubic', tx: 1158,
    lines: cubic_lines, labels: cubic_labels,
    bands: [cA_b1, cA_b2, cA_b3, cA_b4, cA_b5, cA_b6, cA_b7, cA_b8, cA_b9],
    dosO: dosO_cubicA, dosZr: dosZr_cubicA, oAt: [54, 12.1], zrAt: [55, 0.3], tail: [-0.2, 'X'] },
  { top: 530, h: 309, left: 77, w: 286, kMax: 286.3, dosLeft: 368, dosW: 73, title: 'monoclinic', tx: 248,
    lines: monoB_lines, labels: monoB_labels,
    bands: levelBands([
      { k: monoB_k1, levels: [monoB_G, monoB_GY, monoB_Y, monoB_H, monoB_C, monoB_E, monoB_M1, monoB_A, monoB_X, monoB_H1] },
      { k: monoB_k2, levels: [monoB_M, monoB_D, monoB_Z] },
      { k: monoB_k3, levels: [monoB_Yr, monoB_Dend] }]).concat([monoB_LA]),
    dosO: dosO_monoB, dosZr: dosZr_monoB, oAt: [54.5, 12.9], zrAt: [58.6, 1.2], tail: null },
  { top: 530, h: 309, left: 530, w: 288, kMax: 287, dosLeft: 822, dosW: 72, title: 'tetragonal', tx: 706,
    lines: tetra_lines, labels: tetra_labels,
    bands: levelBands([
      { k: tetra_k1, levels: [tB_G, tB_m1, tB_X, tB_m2, tB_M, tB_m3, tB_m4, tB_G2, tB_Z, tB_m5, tB_R, tB_m6, tB_A, tB_m7, tB_Z2] },
      { k: tetra_k2, levels: [tB_X2, tB_m8, tB_R2] },
      { k: tetra_k3, levels: [tB_M2, tB_m9, tB_A2] }]),
    dosO: dosO_tetraB, dosZr: dosZr_tetraB, oAt: [52.8, 12.9], zrAt: [55.6, 1.2], tail: [2.6, 'A'] },
  { top: 530, h: 309, left: 984.5, w: 286.5, kMax: 286, dosLeft: 1276, dosW: 72, title: 'cubic', tx: 1158,
    lines: cubic_lines, labels: cubic_labels,
    bands: [cB_b1, cB_b2, cB_b3, cB_b4, cB_b5, cB_b6, cB_b7, cB_b8, cB_b9],
    dosO: dosO_cubicB, dosZr: dosZr_cubicB, oAt: [54, 12.9], zrAt: [56.7, 1.2], tail: [-0.2, 'X'] }
];

var RICH = { s: { fontSize: 12, fontFamily: FF, color: INK, verticalAlign: 'bottom', padding: [6, 0, 0, 0] } };
var grids = [], xAxes = [], yAxes = [], series = [];

function yPair(g, withLabels) {
  var base = {
    type: 'value', gridIndex: g, min: -10, max: 30, interval: 10,
    axisLine: { show: false }, splitLine: { show: false },
    axisTick: { show: true, inside: true, length: 5, lineStyle: { color: '#333', width: 1 } },
    minorTick: { show: true, splitNumber: 5, length: 3, lineStyle: { color: '#555', width: 1 } }
  };
  var left = Object.assign({}, base, {
    position: 'left',
    axisLabel: withLabels ? {
      show: true, fontSize: 18, color: INK, fontFamily: FF, margin: 9,
      formatter: function (v) { return v < 0 ? '\u2212' + Math.abs(v) : String(v); }
    } : { show: false }
  });
  if (withLabels) {
    left.name = 'Frequency (THz)';
    left.nameLocation = 'middle';
    left.nameGap = 44;
    left.nameRotate = 90;
    left.nameMoveOverlap = false;
    left.nameTextStyle = { fontSize: 19, color: INK, fontFamily: FF };
  }
  var right = Object.assign({}, base, { position: 'right', axisLabel: { show: false } });
  yAxes.push(left, right);
}

panels.forEach(function (p) {
  var gb = grids.length;
  grids.push({ left: p.left, top: p.top, width: p.w, height: p.h, show: true, borderColor: '#222', borderWidth: 1.5, backgroundColor: 'transparent', containLabel: false, outerBoundsMode: 'none' });
  grids.push({ left: p.dosLeft, top: p.top, width: p.dosW, height: p.h, show: true, borderColor: '#222', borderWidth: 1.5, backgroundColor: 'transparent', containLabel: false, outerBoundsMode: 'none' });

  var lab = {};
  p.labels.forEach(function (l) { lab[String(l[0])] = l[1]; });
  xAxes.push({
    type: 'value', gridIndex: gb, min: 0, max: p.kMax,
    axisLine: { show: false }, axisTick: { show: false }, splitLine: { show: false },
    axisLabel: {
      show: true, customValues: p.labels.map(function (l) { return l[0]; }),
      formatter: function (v) { return lab[String(v)] || ''; },
      fontSize: 18, color: INK, fontFamily: FF, margin: 7, rich: RICH,
      showMinLabel: true, showMaxLabel: true, hideOverlap: false
    },
    name: 'Wave vector', nameLocation: 'middle', nameGap: 28, nameMoveOverlap: false,
    nameTextStyle: { fontSize: 18, color: INK, fontFamily: FF }
  });
  xAxes.push({
    type: 'value', gridIndex: gb + 1, min: -3, max: 97,
    axisLine: { show: false }, axisTick: { show: false }, splitLine: { show: false },
    axisLabel: p.tail ? {
      show: true, customValues: [p.tail[0]], formatter: function () { return p.tail[1]; },
      fontSize: 18, color: INK, fontFamily: FF, margin: 7, showMinLabel: true, showMaxLabel: true
    } : { show: false },
    name: 'DOS\n(a.u.)', nameLocation: 'middle', nameGap: 6, nameMoveOverlap: false,
    nameTextStyle: { fontSize: 18, lineHeight: 21, color: INK, fontFamily: FF }
  });
  yPair(gb, true);
  yPair(gb + 1, false);

  // high-symmetry lines and zero line
  series.push({
    type: 'line', xAxisIndex: gb, yAxisIndex: 2 * gb, data: [], silent: true, z: 1,
    markLine: {
      silent: true, symbol: ['none', 'none'], label: { show: false }, animation: false,
      lineStyle: { color: '#4a4a4a', width: 1.5, type: 'solid' },
      data: p.lines.map(function (k) { return { xAxis: k }; }).concat([
        { yAxis: 0, lineStyle: { color: '#999', width: 1, type: [2, 2] } }])
    }
  });
  p.bands.forEach(function (b) {
    series.push({
      type: 'line', xAxisIndex: gb, yAxisIndex: 2 * gb, data: b, smooth: 0.3,
      symbol: 'none', silent: true, z: 3, lineStyle: { color: BAND, width: 1.7 }
    });
  });

  function dosSeries(pts, color, text, at, size) {
    return {
      type: 'line', xAxisIndex: gb + 1, yAxisIndex: 2 * (gb + 1),
      data: pts.map(function (q) { return [q[1], q[0]]; }),
      symbol: 'none', silent: true, z: 3, lineStyle: { color: color, width: 1.4 },
      markPoint: {
        symbol: 'circle', symbolSize: 1, silent: true, itemStyle: { color: 'rgba(0,0,0,0)' },
        label: { show: true, position: 'inside', formatter: text, color: color, fontSize: size, fontWeight: 'bold', fontFamily: FF },
        data: [{ coord: at }]
      }
    };
  }
  series.push(dosSeries(p.dosZr, CYAN, 'Zr', p.zrAt, 28));
  series.push(dosSeries(p.dosO, RED, 'O', p.oAt, 29));
});

var graphics = [
  { type: 'text', x: 6, y: 20, style: { text: '(a) DFT', font: '33px ' + FF, fill: '#111', verticalAlign: 'middle' } },
  { type: 'text', x: 6, y: 472, style: { text: '(b) GAOP2', font: '33px ' + FF, fill: '#111', verticalAlign: 'middle' } }
];
panels.forEach(function (p) {
  graphics.push({ type: 'text', x: p.tx, y: p.top - 25, style: { text: p.title, font: '27px ' + FF, fill: '#111', align: 'center', verticalAlign: 'middle' } });
});

var chart = echarts.init(document.getElementById('main'));
chart.setOption({
  animation: false,
  backgroundColor: '#ffffff',
  textStyle: { fontFamily: FF },
  grid: grids,
  xAxis: xAxes,
  yAxis: yAxes,
  series: series,
  graphic: graphics
});
</script>
</body>
</html>
